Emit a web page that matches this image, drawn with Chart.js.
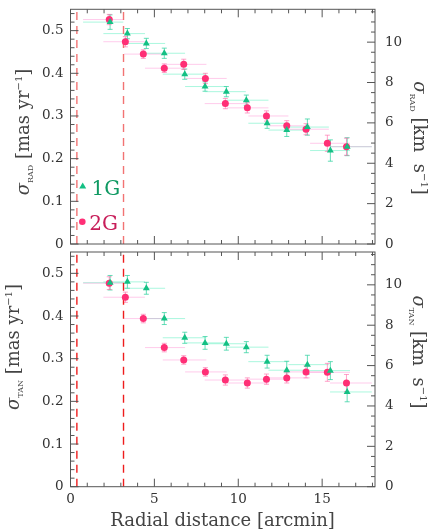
<!DOCTYPE html>
<html><head><meta charset="utf-8">
<script src="https://cdn.jsdelivr.net/npm/chart.js@4.4.0/dist/chart.umd.min.js"></script>
<style>
html,body{margin:0;padding:0;background:#fff;}
#wrap{position:relative;width:436px;height:530px;overflow:hidden;}
#c1{position:absolute;left:0;top:0;}
#c2{position:absolute;left:0;top:248px;}
</style></head><body>
<div id="wrap">
<canvas id="c1" width="436" height="248"></canvas>
<canvas id="c2" width="436" height="282"></canvas>
</div>
<script>
// ---- data (radial distance in arcmin, dispersions in mas/yr) ----
const x1G = [2.36, 3.39, 4.52, 5.59, 6.81, 8.02, 9.29, 10.48, 11.72, 12.89, 14.12, 15.49, 16.49];
const x2G = [2.31, 3.27, 4.34, 5.59, 6.75, 8.04, 9.23, 10.54, 11.68, 12.89, 14.04, 15.31, 16.45];
const binLo = [0.75, 1.96, 3.20, 4.44, 5.50, 6.83, 8.00, 9.31, 10.60, 11.80, 12.99, 14.28, 15.47];
const binHi = [3.15, 4.44, 5.64, 6.83, 8.10, 9.31, 10.45, 11.80, 12.99, 14.28, 15.40, 16.66, 17.96];
const rad1G = [0.520, 0.493, 0.470, 0.447, 0.398, 0.369, 0.357, 0.337, 0.283, 0.267, 0.274, 0.219, 0.228];
const rad2G = [0.526, 0.474, 0.445, 0.412, 0.421, 0.388, 0.329, 0.319, 0.300, 0.277, 0.269, 0.236, 0.228];
const radErr1G = [0.017, 0.012, 0.012, 0.012, 0.012, 0.011, 0.012, 0.012, 0.012, 0.015, 0.019, 0.025, 0.021];
const radErr2G = [0.012, 0.012, 0.010, 0.010, 0.012, 0.012, 0.012, 0.012, 0.012, 0.012, 0.013, 0.019, 0.020];
const tan1G = [0.478, 0.480, 0.465, 0.394, 0.349, 0.337, 0.335, 0.327, 0.293, 0.273, 0.286, 0.272, 0.222];
const tan2G = [0.477, 0.444, 0.394, 0.326, 0.297, 0.269, 0.250, 0.243, 0.252, 0.255, 0.269, 0.268, 0.243];
const tanErr1G = [0.017, 0.015, 0.014, 0.014, 0.013, 0.015, 0.015, 0.013, 0.015, 0.021, 0.022, 0.021, 0.023];
const tanErr2G = [0.015, 0.012, 0.010, 0.010, 0.010, 0.010, 0.012, 0.012, 0.012, 0.012, 0.014, 0.021, 0.020];
const vLines = [0.38, 3.16];
const groupLabels = ['1G', '2G'];
const xTickLabels = [0, 5, 10, 15];
const kmsPerMas = 21.14;
const yMax = 0.55, xMax = 18.15;

const FONT = '"DejaVu Serif", serif';
const COL1 = '#14c084', COL2 = '#ff2f76';

function pts(xs, ys) { return xs.map((x, i) => ({x: x, y: ys[i]})); }
function vline(v, color) {
  return {data: [{x: v, y: 0}, {x: v, y: yMax}], showLine: true, pointRadius: 0,
    borderColor: color, borderWidth: 1.4, borderDash: [8, 6], order: 5, fill: false};
}
function fmtMas(v) {
  const r = Math.round(v * 100) / 100;
  if (Math.abs(r * 10 - Math.round(r * 10)) > 1e-6) return null;
  return r === 0 ? '0' : String(Math.round(r * 10) / 10);
}
function fmtKms(v) {
  if (Math.abs(v - Math.round(v)) > 1e-6 || Math.round(v) % 2) return null;
  return String(Math.round(v));
}
function fmtX(v) {
  return xTickLabels.some(t => Math.abs(t - v) < 1e-6) ? String(Math.round(v)) : null;
}
function noPad(s) { s.paddingTop = 0; s.paddingBottom = 0; }

const errPlugin = {
  id: 'errbars',
  beforeDatasetsDraw(chart) {
    const ctx = chart.ctx, xs = chart.scales.x, ys = chart.scales.y;
    ctx.save();
    chart.data.datasets.forEach(ds => {
      if (!ds.errY) return;
      ds.data.forEach((p, i) => {
        const px = xs.getPixelForValue(p.x), py = ys.getPixelForValue(p.y);
        ctx.lineWidth = 1;
        ctx.strokeStyle = ds.hColor;
        ctx.beginPath();
        ctx.moveTo(xs.getPixelForValue(ds.xLo[i]), py);
        ctx.lineTo(xs.getPixelForValue(ds.xHi[i]), py);
        ctx.stroke();
        const y0 = ys.getPixelForValue(p.y - ds.errY[i]), y1 = ys.getPixelForValue(p.y + ds.errY[i]);
        ctx.strokeStyle = ds.vColor;
        ctx.beginPath();
        ctx.moveTo(px, y0); ctx.lineTo(px, y1);
        ctx.moveTo(px - 2.5, y0); ctx.lineTo(px + 2.5, y0);
        ctx.moveTo(px - 2.5, y1); ctx.lineTo(px + 2.5, y1);
        ctx.stroke();
      });
    });
    ctx.restore();
  }
};

const framePlugin = {
  id: 'frame',
  afterDatasetsDraw(chart) {
    const ctx = chart.ctx, a = chart.chartArea, s = chart.scales;
    ctx.save();
    ctx.strokeStyle = '#555';
    ctx.lineWidth = 1;
    ctx.strokeRect(a.left, a.top, a.right - a.left, a.bottom - a.top);
    ctx.beginPath();
    for (let k = 0; k <= 18; k++) {
      const px = s.x.getPixelForValue(k), len = k % 5 === 0 ? 8 : 4;
      ctx.moveTo(px, a.bottom); ctx.lineTo(px, a.bottom - len);
      ctx.moveTo(px, a.top); ctx.lineTo(px, a.top + len);
    }
    for (let k = 0; k * 0.02 <= yMax + 1e-9; k++) {
      const py = s.y.getPixelForValue(k * 0.02), len = k % 5 === 0 ? 8 : 4;
      ctx.moveTo(a.left, py); ctx.lineTo(a.left + len, py);
    }
    for (let k = 0; k * 0.5 <= yMax * kmsPerMas; k++) {
      const py = s.y2.getPixelForValue(k * 0.5), len = k % 4 === 0 ? 8 : 4;
      ctx.moveTo(a.right, py); ctx.lineTo(a.right - len, py);
    }
    ctx.stroke();
    ctx.restore();
  }
};

function richText(ctx, segs, x, y, rot, color) {
  ctx.save();
  ctx.translate(x, y);
  ctx.rotate(rot);
  ctx.fillStyle = color;
  ctx.textBaseline = 'alphabetic';
  ctx.textAlign = 'left';
  let total = 0;
  segs.forEach(s => { ctx.font = s.f; s.w = ctx.measureText(s.t).width; total += s.w; });
  let cur = -total / 2;
  segs.forEach(s => { ctx.font = s.f; ctx.fillText(s.t, cur, s.dy || 0); cur += s.w; });
  ctx.restore();
}
function sigmaTitle(sub, unit) {
  return [
    {t: 'σ', f: 'italic 18px ' + FONT},
    {t: sub, f: '8px ' + FONT, dy: 4},
    {t: unit, f: '18px ' + FONT},
    {t: '−1', f: '10px ' + FONT, dy: -7},
    {t: ']', f: '18px ' + FONT}
  ];
}

function titlesPlugin(sub, leftPos, rightPos, withLegend, withX) {
  return {
    id: 'titles',
    afterDraw(chart) {
      const ctx = chart.ctx;
      richText(ctx, sigmaTitle(sub, ' [mas yr'), leftPos[0], leftPos[1], -Math.PI / 2, '#444');
      richText(ctx, sigmaTitle(sub, ' [km  s'), rightPos[0], rightPos[1], Math.PI / 2, '#444');
      if (withX) {
        ctx.save();
        ctx.font = '18px ' + FONT; ctx.fillStyle = '#444';
        ctx.textAlign = 'center'; ctx.textBaseline = 'alphabetic';
        ctx.fillText('Radial distance [arcmin]', withX[0], withX[1]);
        ctx.restore();
      }
      if (withLegend) {
        ctx.save();
        ctx.fillStyle = COL1;
        ctx.beginPath();
        ctx.moveTo(82.7, 182.5); ctx.lineTo(86.2, 188.5); ctx.lineTo(79.2, 188.5); ctx.closePath();
        ctx.fill();
        ctx.fillStyle = COL2;
        ctx.beginPath(); ctx.arc(82.3, 221.7, 3.3, 0, Math.PI * 2); ctx.fill();
        ctx.font = '20px ' + FONT; ctx.textBaseline = 'alphabetic'; ctx.textAlign = 'left';
        ctx.fillStyle = '#109a63'; ctx.fillText(groupLabels[0], 91.5, 195);
        ctx.fillStyle = '#c81e5a'; ctx.fillText(groupLabels[1], 89.3, 229.5);
        ctx.restore();
      }
    }
  };
}

function makeChart(id, s1, e1, s2, e2, lineColor, wantTop, wantBottom, showX, plugin) {
  const chart = new Chart(document.getElementById(id), {
    type: 'scatter',
    data: {
      datasets: [
        {label: groupLabels[0], data: pts(x1G, s1), pointStyle: 'triangle', pointRadius: 4,
         backgroundColor: COL1, borderColor: COL1, borderWidth: 0, order: 0,
         errY: e1, xLo: binLo, xHi: binHi, vColor: 'rgba(50,210,160,0.75)', hColor: 'rgba(100,240,195,0.55)'},
        {label: groupLabels[1], data: pts(x2G, s2), pointStyle: 'circle', pointRadius: 3.5,
         backgroundColor: COL2, borderColor: COL2, borderWidth: 0, order: 1,
         errY: e2, xLo: binLo, xHi: binHi, vColor: 'rgba(255,100,165,0.6)', hColor: 'rgba(255,140,210,0.45)'},
        vline(vLines[0], lineColor),
        vline(vLines[1], lineColor)
      ]
    },
    options: {
      responsive: false, animation: false, events: [],
      layout: {padding: {top: 0, bottom: 0, left: 0, right: 0}},
      plugins: {legend: {display: false}, tooltip: {enabled: false}},
      scales: {
        x: {type: 'linear', min: 0, max: xMax, display: showX,
            afterFit: s => { s.height = showX ? 43.3 : 0; s.paddingLeft = 0; s.paddingRight = 0; },
            grid: {display: false, drawTicks: false}, border: {display: false},
            ticks: {stepSize: 5, includeBounds: false, autoSkip: false, padding: 5, color: '#333',
                    font: {family: FONT, size: 13.5}, callback: fmtX, maxRotation: 0}},
        y: {type: 'linear', position: 'left', min: 0, max: yMax,
            afterFit: s => { s.width = 70.5; noPad(s); },
            grid: {display: false, drawTicks: false}, border: {display: false},
            ticks: {stepSize: 0.1, includeBounds: false, autoSkip: false, padding: 7, color: '#333',
                    font: {family: FONT, size: 13.5}, callback: fmtMas}},
        y2: {type: 'linear', position: 'right', min: 0, max: yMax * kmsPerMas,
            afterFit: s => { s.width = 61; noPad(s); },
            grid: {display: false, drawTicks: false}, border: {display: false},
            ticks: {stepSize: 2, includeBounds: false, autoSkip: false, padding: 10, color: '#333',
                    font: {family: FONT, size: 13.5}, callback: fmtKms}}
      }
    },
    plugins: [errPlugin, framePlugin, plugin]
  });
  // correct the layout so the plot area lands exactly where wanted
  for (let it = 0; it < 3; it++) {
    const a = chart.chartArea, p = chart.options.layout.padding;
    const dt = wantTop - a.top, db = a.bottom - wantBottom;
    if (Math.abs(dt) < 0.05 && Math.abs(db) < 0.05) break;
    chart.options.layout.padding = {top: p.top + dt, bottom: p.bottom + db, left: 0, right: 0};
    chart.update();
  }
  return chart;
}

makeChart('c1', rad1G, radErr1G, rad2G, radErr2G, 'rgba(240,90,90,0.85)', 9.3, 246, false,
  titlesPlugin('RAD', [29, 132], [414, 138], true, null));
makeChart('c2', tan1G, tanErr1G, tan2G, tanErr2G, '#ee1c1c', 1.5, 238.7, true,
  titlesPlugin('TAN', [19, 99], [413, 104], false, [222.5, 278]));
</script>
</body></html>
